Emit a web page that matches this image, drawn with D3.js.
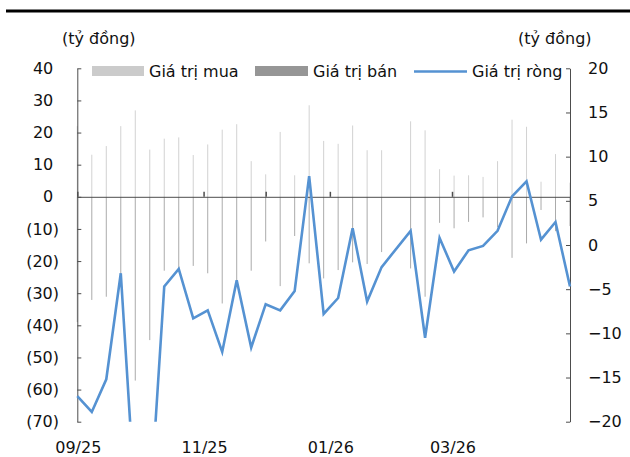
<!DOCTYPE html>
<html>
<head>
<meta charset="utf-8">
<script src="https://cdn.jsdelivr.net/npm/d3@7/dist/d3.min.js"></script>
<style>
  body { margin: 0; background: #fff; }
  svg { display: block; font-family: "DejaVu Sans", Verdana, sans-serif; }
</style>
</head>
<body>
<svg id="chart" width="630" height="457"></svg>
<script>
(function() {

    // weekly data, week of 02/02/2026 has no value
    var weeks = [
        "2025-09-01", "2025-09-08", "2025-09-15", "2025-09-22", "2025-09-29",
        "2025-10-06", "2025-10-13", "2025-10-20", "2025-10-27", "2025-11-03",
        "2025-11-10", "2025-11-17", "2025-11-24", "2025-12-01", "2025-12-08",
        "2025-12-15", "2025-12-22", "2025-12-29", "2026-01-05", "2026-01-12",
        "2026-01-19", "2026-01-26", "2026-02-09", "2026-02-16", "2026-02-23",
        "2026-03-02", "2026-03-09", "2026-03-16", "2026-03-23", "2026-03-30",
        "2026-04-06", "2026-04-13", "2026-04-20", "2026-04-27"
    ];
    var buy = [22, 13.1, 15.8, 22.0, 26.9, 14.7, 18.1, 18.5, 13.0, 16.3,
               20.9, 22.6, 11.1, 7.0, 20.2, 6.7, 28.5, 17.4, 16.5, 22.2,
               14.5, 14.5, 23.5, 20.7, 8.6, 6.6, 6.7, 6.2, 11.1, 24.0,
               21.8, 4.7, 13.3, 4.4];
    var sell = [-39, -32.1, -31.1, -25.0, -57.2, -44.6, -23.0, -22.3, -21.5, -23.8,
                -33.2, -26.5, -23.0, -13.9, -27.8, -12.2, -20.7, -25.4, -22.8, -20.4,
                -20.9, -17.2, -22.3, -31.1, -8.1, -9.8, -7.8, -6.4, -9.5, -19.0,
                -14.5, -4.1, -10.7, -9.1];
    var net = [-17.1, -18.9, -15.2, -3.2, -29.3, -30.2, -4.7, -2.7, -8.3, -7.4,
               -12.1, -4.0, -11.6, -6.7, -7.4, -5.2, 7.8, -7.8, -6.0, 1.9,
               -6.4, -2.5, 1.6, -10.5, 0.8, -3.0, -0.6, -0.1, 1.6, 5.5,
               7.2, 0.6, 2.6, -4.7];

    var leftTicks = [40, 30, 20, 10, 0, -10, -20, -30, -40, -50, -60, -70];
    var rightTicks = [20, 15, 10, 5, 0, -5, -10, -15, -20];
    var monthMarks = ["2025-09-01", "2025-11-01", "2025-12-01", "2026-01-01", "2026-03-01"];
    var monthLabels = ["2025-09-01", "2025-11-01", "2026-01-01", "2026-03-01"];
    var legendNames = ["Giá trị mua", "Giá trị bán", "Giá trị ròng"];
    var unitLabel = "(tỷ đồng)";

    var parse = d3.timeParse("%Y-%m-%d"),
        fontSize = 16,
        barColor = "#d2d2d2",
        sellColor = "#ababab",
        lineColor = "#5592d2",
        axisColor = "#4d4d4d",
        textColor = "#111";

    var rows = weeks.map(function(w, i) {
        return { date: parse(w), buy: buy[i], sell: sell[i], net: net[i] };
    });

    var svg = d3.select("#chart");

    var x = d3.scaleTime()
        .domain([parse(weeks[0]), parse(weeks[weeks.length - 1])])
        .range([77.3, 570]);
    var yL = d3.scaleLinear().domain([-70, 40]).range([421.7, 68.3]);
    var yR = d3.scaleLinear().domain([-20, 20]).range([421.7, 68.3]);

    // top rule
    svg.append("line")
        .attr("x1", 6).attr("x2", 630)
        .attr("y1", 11).attr("y2", 11)
        .style("stroke", "#000")
        .style("stroke-width", 3);

    // unit labels
    svg.append("text")
        .attr("x", 62).attr("y", 44)
        .style("font-size", fontSize + "px")
        .style("fill", textColor)
        .text(unitLabel);
    svg.append("text")
        .attr("x", 518).attr("y", 44)
        .style("font-size", fontSize + "px")
        .style("fill", textColor)
        .text(unitLabel);

    // bars
    svg.append("g").selectAll("rect.buy")
        .data(rows)
        .enter().append("rect")
        .attr("class", "buy")
        .attr("x", function(d) { return x(d.date) - 0.5; })
        .attr("y", function(d) { return yL(d.buy); })
        .attr("width", 1)
        .attr("height", function(d) { return yL(0) - yL(d.buy); })
        .style("fill", barColor);

    svg.append("g").selectAll("rect.sell")
        .data(rows)
        .enter().append("rect")
        .attr("class", "sell")
        .attr("x", function(d) { return x(d.date) - 0.5; })
        .attr("y", yL(0))
        .attr("width", 1)
        .attr("height", function(d) { return yL(d.sell) - yL(0); })
        .style("fill", sellColor);

    // zero line with month marks
    var xAxis = svg.append("g")
        .attr("transform", "translate(0," + yL(0) + ")")
        .call(d3.axisTop(x)
            .tickValues(monthMarks.map(parse))
            .tickSizeInner(5)
            .tickSizeOuter(0)
            .tickFormat(""));
    xAxis.selectAll("path, line").style("stroke", axisColor);
    xAxis.selectAll(".tick line").style("stroke-width", 1.5);

    // month labels
    svg.append("g").selectAll("text")
        .data(monthLabels)
        .enter().append("text")
        .attr("x", function(d) { return x(parse(d)) + 1; })
        .attr("y", 453)
        .attr("text-anchor", "middle")
        .style("font-size", fontSize + "px")
        .style("fill", textColor)
        .text(function(d) { return d3.timeFormat("%m/%y")(parse(d)); });

    // left axis
    var left = svg.append("g")
        .attr("transform", "translate(77.3,0)")
        .call(d3.axisLeft(yL)
            .tickValues(leftTicks)
            .tickSizeInner(-4)
            .tickSizeOuter(0)
            .tickFormat(function(d) { return d < 0 ? "(" + (-d) + ")" : d; }));
    left.selectAll("path, line").style("stroke", axisColor);
    left.selectAll("text")
        .attr("x", function(d) { return d < 0 ? -18.3 : -24; })
        .style("font-size", fontSize + "px")
        .style("font-family", "DejaVu Sans, Verdana, sans-serif")
        .style("fill", textColor);

    // right axis
    var right = svg.append("g")
        .attr("transform", "translate(570,0)")
        .call(d3.axisRight(yR)
            .tickValues(rightTicks)
            .tickSizeInner(-4)
            .tickSizeOuter(0));
    right.selectAll("path, line").style("stroke", axisColor);
    right.selectAll("text")
        .attr("x", 18)
        .style("font-size", fontSize + "px")
        .style("font-family", "DejaVu Sans, Verdana, sans-serif")
        .style("fill", textColor);

    // net line
    svg.append("clipPath").attr("id", "plot")
        .append("rect")
        .attr("x", 70).attr("y", 68.3)
        .attr("width", 510).attr("height", 421.7 - 68.3);

    var line = d3.line()
        .x(function(d) { return x(d.date); })
        .y(function(d) { return yR(d.net); });

    svg.append("path")
        .datum(rows)
        .attr("clip-path", "url(#plot)")
        .attr("d", line)
        .style("fill", "none")
        .style("stroke", lineColor)
        .style("stroke-width", 2.6)
        .style("stroke-linejoin", "miter");

    // legend
    var lg = svg.append("g");
    lg.append("rect")
        .attr("x", 92).attr("y", 66).attr("width", 52).attr("height", 10)
        .style("fill", "#cbcbcb");
    lg.append("rect")
        .attr("x", 255).attr("y", 66).attr("width", 53).attr("height", 10)
        .style("fill", "#969696");
    lg.append("line")
        .attr("x1", 414).attr("x2", 467)
        .attr("y1", 71.5).attr("y2", 71.5)
        .style("stroke", lineColor)
        .style("stroke-width", 2.6);
    lg.selectAll("text")
        .data(legendNames)
        .enter().append("text")
        .attr("x", function(d, i) { return [149, 313, 472][i]; })
        .attr("y", 77)
        .style("font-size", fontSize + "px")
        .style("fill", textColor)
        .text(function(d) { return d; });

})();
</script>
</body>
</html>
